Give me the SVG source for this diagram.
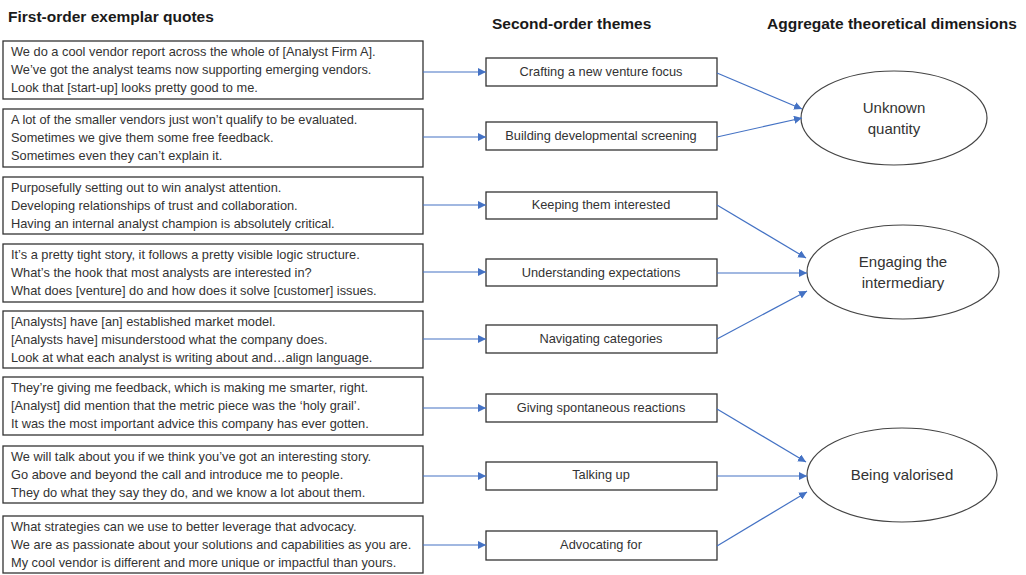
<svg xmlns="http://www.w3.org/2000/svg" width="1026" height="575" viewBox="0 0 1026 575">
<style>
  .hdr{font-family:"Liberation Sans",Arial,sans-serif;font-weight:bold;font-size:15.5px;fill:#1a1a1a}
  .q{font-family:"Liberation Sans",Arial,sans-serif;font-size:12.8px;fill:#333}
  .lbl{font-family:"Liberation Sans",Arial,sans-serif;font-size:12.8px;fill:#333;text-anchor:middle}
  .dim{font-family:"Liberation Sans",Arial,sans-serif;font-size:15px;fill:#333;text-anchor:middle}
  .box{fill:#fff;stroke:#333;stroke-width:1.3}
  .ell{fill:#fff;stroke:#444;stroke-width:1.2}
  .conn line{stroke:#4472C4;stroke-width:1.2;marker-end:url(#ah)}
</style>
<defs>
  <marker id="ah" viewBox="0 0 10 10" refX="10" refY="5" markerWidth="8" markerHeight="8" markerUnits="userSpaceOnUse" orient="auto">
    <path d="M0,0 L10,5 L0,10 z" fill="#4472C4"/>
  </marker>
</defs>
<rect width="1026" height="575" fill="#fff"/>

<g id="headers">
  <text class="hdr" x="8" y="22">First-order exemplar quotes</text>
  <text class="hdr" x="492" y="29">Second-order themes</text>
  <text class="hdr" x="767" y="29">Aggregate theoretical dimensions</text>
</g>

<g id="q1">
  <rect class="box" x="3" y="41" width="420" height="58"/>
  <text class="q" x="11" y="56">We do a cool vendor report across the whole of [Analyst Firm A].</text>
  <text class="q" x="11" y="74">We’ve got the analyst teams now supporting emerging vendors.</text>
  <text class="q" x="11" y="92">Look that [start-up] looks pretty good to me.</text>
</g>
<g id="q2">
  <rect class="box" x="3" y="109" width="420" height="58"/>
  <text class="q" x="11" y="124">A lot of the smaller vendors just won’t qualify to be evaluated.</text>
  <text class="q" x="11" y="142">Sometimes we give them some free feedback.</text>
  <text class="q" x="11" y="160">Sometimes even they can’t explain it.</text>
</g>
<g id="q3">
  <rect class="box" x="3" y="177" width="420" height="57"/>
  <text class="q" x="11" y="192">Purposefully setting out to win analyst attention.</text>
  <text class="q" x="11" y="210">Developing relationships of trust and collaboration.</text>
  <text class="q" x="11" y="228">Having an internal analyst champion is absolutely critical.</text>
</g>
<g id="q4">
  <rect class="box" x="3" y="244" width="420" height="58"/>
  <text class="q" x="11" y="259">It’s a pretty tight story, it follows a pretty visible logic structure.</text>
  <text class="q" x="11" y="277">What’s the hook that most analysts are interested in?</text>
  <text class="q" x="11" y="295">What does [venture]  do and how does it solve [customer]  issues.</text>
</g>
<g id="q5">
  <rect class="box" x="3" y="311" width="420" height="57"/>
  <text class="q" x="11" y="326">[Analysts] have [an] established market model.</text>
  <text class="q" x="11" y="344">[Analysts have] misunderstood what the company does.</text>
  <text class="q" x="11" y="362">Look at what each analyst is writing about and…align language.</text>
</g>
<g id="q6">
  <rect class="box" x="3" y="377" width="420" height="58"/>
  <text class="q" x="11" y="392">They’re giving me feedback, which is making me smarter, right.</text>
  <text class="q" x="11" y="410">[Analyst] did mention that the metric piece was the ‘holy grail’.</text>
  <text class="q" x="11" y="428">It was the most important advice this company has ever gotten.</text>
</g>
<g id="q7">
  <rect class="box" x="3" y="446" width="420" height="57"/>
  <text class="q" x="11" y="461">We will talk about you if we think you’ve got an interesting story.</text>
  <text class="q" x="11" y="479">Go above and beyond the call and introduce me to people.</text>
  <text class="q" x="11" y="497">They do what they say they do, and we know a lot about them.</text>
</g>
<g id="q8">
  <rect class="box" x="3" y="516" width="420" height="57"/>
  <text class="q" x="11" y="531">What strategies can we use to better  leverage that advocacy.</text>
  <text class="q" x="11" y="549">We are as passionate about your solutions and capabilities as you are.</text>
  <text class="q" x="11" y="567">My cool vendor is different and more unique or impactful than yours.</text>
</g>

<g id="t1"><rect class="box" x="486" y="58" width="231" height="28"/><text class="lbl" x="601" y="76">Crafting a new venture  focus</text></g>
<g id="t2"><rect class="box" x="486" y="122" width="231" height="28"/><text class="lbl" x="601" y="140">Building developmental screening</text></g>
<g id="t3"><rect class="box" x="486" y="192" width="231" height="27"/><text class="lbl" x="601" y="209">Keeping them  interested</text></g>
<g id="t4"><rect class="box" x="486" y="259" width="231" height="27"/><text class="lbl" x="601" y="277">Understanding expectations</text></g>
<g id="t5"><rect class="box" x="486" y="325" width="231" height="28"/><text class="lbl" x="601" y="343">Navigating categories</text></g>
<g id="t6"><rect class="box" x="486" y="394" width="231" height="28"/><text class="lbl" x="601" y="412">Giving spontaneous reactions</text></g>
<g id="t7"><rect class="box" x="486" y="462" width="231" height="28"/><text class="lbl" x="601" y="479">Talking up</text></g>
<g id="t8"><rect class="box" x="486" y="531" width="231" height="29"/><text class="lbl" x="601" y="549">Advocating for</text></g>

<g id="d1"><ellipse class="ell" cx="894" cy="118" rx="93" ry="47"/><text class="dim" x="894" y="113">Unknown</text><text class="dim" x="894" y="134">quantity</text></g>
<g id="d2"><ellipse class="ell" cx="903" cy="272" rx="96" ry="47"/><text class="dim" x="903" y="267">Engaging the</text><text class="dim" x="903" y="288">intermediary</text></g>
<g id="d3"><ellipse class="ell" cx="902" cy="475" rx="95" ry="47"/><text class="dim" x="902" y="480">Being valorised</text></g>

<g id="connectors" class="conn">
  <line x1="423" y1="72" x2="486" y2="72"/>
  <line x1="423" y1="137" x2="486" y2="137"/>
  <line x1="423" y1="205" x2="486" y2="205"/>
  <line x1="423" y1="272" x2="486" y2="272"/>
  <line x1="423" y1="339" x2="486" y2="339"/>
  <line x1="423" y1="408" x2="486" y2="408"/>
  <line x1="423" y1="476" x2="486" y2="476"/>
  <line x1="423" y1="545" x2="486" y2="545"/>
  <line x1="717" y1="73" x2="802" y2="109"/>
  <line x1="717" y1="137" x2="802" y2="118"/>
  <line x1="717" y1="205" x2="806" y2="258"/>
  <line x1="717" y1="273" x2="807" y2="273"/>
  <line x1="717" y1="339" x2="807" y2="291"/>
  <line x1="717" y1="409" x2="806" y2="462"/>
  <line x1="717" y1="476" x2="807" y2="476"/>
  <line x1="717" y1="546" x2="807" y2="492"/>
</g>
</svg>
